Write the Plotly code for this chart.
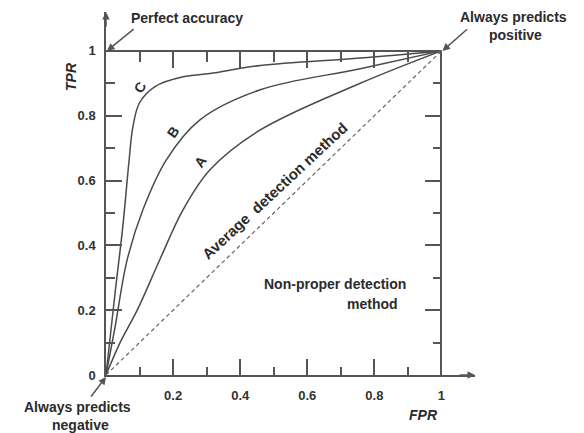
import plotly.graph_objects as go

# ---- data ----
fpr_C = [0.0, 0.027, 0.05, 0.069, 0.08, 0.10, 0.146, 0.23, 0.31, 0.46, 0.758, 1.0]
tpr_C = [0.0, 0.253, 0.457, 0.664, 0.765, 0.84, 0.89, 0.92, 0.93, 0.955, 0.978, 1.0]
fpr_B = [0.0, 0.027, 0.063, 0.11, 0.18, 0.28, 0.46, 0.758, 1.0]
tpr_B = [0.0, 0.148, 0.355, 0.51, 0.664, 0.787, 0.88, 0.945, 1.0]
fpr_A = [0.0, 0.042, 0.093, 0.16, 0.23, 0.31, 0.46, 0.758, 1.0]
tpr_A = [0.0, 0.10, 0.20, 0.355, 0.51, 0.633, 0.756, 0.90, 1.0]
fpr_diag = [0.0, 1.0]
tpr_diag = [0.0, 1.0]

major_ticks = [0.2, 0.4, 0.6, 0.8, 1.0]
minor_ticks = [0.1, 0.3, 0.5, 0.7, 0.9]
x_tick_labels = ["0.2", "0.4", "0.6", "0.8", "1"]
y_ticks = [0.0, 0.2, 0.4, 0.6, 0.8, 1.0]
y_tick_labels = ["0", "0.2", "0.4", "0.6", "0.8", "1"]

X_MAX = 1.10
Y_MAX = 1.12
PX_X = 335.0   # pixels per unit x
PX_Y = 324.0   # pixels per unit y

# the page body has an 8px margin: compensate so the plot lands where the reference has it
OFF = 8
W, H = 584 - OFF, 433 - OFF
L = 106 - OFF
T = 375 - OFF - PX_Y * Y_MAX
B = H - (375 - OFF)
R = W - L - PX_X * X_MAX

AX = "#555555"
LINE = "#4a4a4a"
TXT = "#2b2b2b"
FONT = "Liberation Sans"

fig = go.Figure()

for xs, ys in [(fpr_C, tpr_C), (fpr_B, tpr_B), (fpr_A, tpr_A)]:
    fig.add_trace(go.Scatter(x=xs, y=ys, mode="lines",
                             line=dict(color=LINE, width=1.5, shape="spline", smoothing=1.0),
                             hoverinfo="skip", showlegend=False))
fig.add_trace(go.Scatter(x=fpr_diag, y=tpr_diag, mode="lines",
                         line=dict(color="#666666", width=1.2, dash="4px,3px"),
                         hoverinfo="skip", showlegend=False))
# invisible trace for the frame axes (top / right)
fig.add_trace(go.Scatter(x=[0, 1], y=[0, 1], xaxis="x2", yaxis="y2", mode="markers",
                         marker=dict(opacity=0), hoverinfo="skip", showlegend=False))

tickfont = dict(family=FONT, size=13, color="#333333", weight="bold")

fig.update_layout(
    width=W, height=H,
    margin=dict(l=L, r=R, t=T, b=B, pad=0),
    paper_bgcolor="white", plot_bgcolor="rgba(0,0,0,0)",
    font=dict(family=FONT, color=TXT),
    xaxis=dict(range=[0, X_MAX], domain=[0, 1], showgrid=False, zeroline=False,
               showline=True, linecolor=AX, linewidth=1.5,
               ticks="inside", ticklen=16, tickwidth=1.5, tickcolor=AX,
               tickmode="array", tickvals=major_ticks, ticktext=x_tick_labels,
               tickfont=tickfont, ticklabelstandoff=8,
               minor=dict(tickmode="array", tickvals=minor_ticks, ticklen=8,
                          tickwidth=1.5, tickcolor=AX, ticks="inside", showgrid=False)),
    yaxis=dict(range=[0, Y_MAX], domain=[0, 1], showgrid=False, zeroline=False,
               showline=True, linecolor=AX, linewidth=1.5,
               ticks="inside", ticklen=16, tickwidth=1.5, tickcolor=AX,
               tickmode="array", tickvals=y_ticks, ticktext=y_tick_labels,
               tickfont=tickfont, ticklabelstandoff=6,
               minor=dict(tickmode="array", tickvals=minor_ticks, ticklen=9,
                          tickwidth=1.5, tickcolor=AX, ticks="inside", showgrid=False)),
    xaxis2=dict(range=[0, 1], domain=[0, 1 / X_MAX], anchor="free", position=1 / Y_MAX,
                side="top", showgrid=False, zeroline=False,
                showline=True, linecolor=AX, linewidth=1.5,
                ticks="inside", ticklen=16, tickwidth=1.5, tickcolor=AX,
                tickmode="array", tickvals=major_ticks[:-1], showticklabels=False,
                minor=dict(tickmode="array", tickvals=minor_ticks, ticklen=10,
                           tickwidth=1.5, tickcolor=AX, ticks="inside", showgrid=False)),
    yaxis2=dict(range=[0, 1], domain=[0, 1 / Y_MAX], anchor="free", position=1 / X_MAX,
                side="right", showgrid=False, zeroline=False,
                showline=True, linecolor=AX, linewidth=1.5,
                ticks="inside", ticklen=16, tickwidth=1.5, tickcolor=AX,
                tickmode="array", tickvals=major_ticks[:-1], showticklabels=False,
                minor=dict(tickmode="array", tickvals=minor_ticks, ticklen=8,
                           tickwidth=1.5, tickcolor=AX, ticks="inside", showgrid=False)),
)


def txt(x, y, s, angle=0, size=14, italic=False):
    # positions given in data units, placed in paper coordinates so they are never hidden
    fig.add_annotation(x=x / X_MAX, y=y / Y_MAX, xref="paper", yref="paper", text=s,
                       xanchor="center", yanchor="middle",
                       showarrow=False, textangle=angle,
                       font=dict(family=FONT, size=size, color=TXT,
                                 style="italic" if italic else "normal", weight="bold"))


def arrow(hx, hy, tx, ty, size=1.0):
    fig.add_annotation(x=hx / X_MAX, y=hy / Y_MAX, xref="paper", yref="paper",
                       ax=(tx - hx) * PX_X, ay=-(ty - hy) * PX_Y, axref="pixel", ayref="pixel",
                       text="", showarrow=True, arrowhead=2, arrowsize=size,
                       arrowwidth=1.5, arrowcolor=AX)


# axis arrows
arrow(X_MAX, 0, X_MAX - 0.05, 0)
arrow(0, Y_MAX, 0, Y_MAX - 0.05)

# pointer arrows
arrow(0.003, 1.0, 0.087, 1.071)
arrow(1.003, 1.0, 1.081, 1.071)
arrow(0.0, -0.006, -0.048, -0.071)

txt(0.242, 1.102, "Perfect accuracy")
txt(1.215, 1.105, "Always predicts")
txt(1.22, 1.049, "positive")
txt(-0.084, -0.099, "Always predicts")
txt(-0.076, -0.154, "negative")
txt(0.684, 0.281, "Non-proper detection")
txt(0.794, 0.219, "method")
txt(0.504, 0.568, "Average  detection method", angle=-43, size=15)
txt(0.100, 0.886, "C", angle=-60)
txt(0.200, 0.750, "B", angle=-55)
txt(0.280, 0.658, "A", angle=-55)
txt(-0.104, 0.92, "TPR", angle=-90, italic=True)
txt(0.946, -0.123, "FPR", italic=True)

fig.write_html("out.html")
